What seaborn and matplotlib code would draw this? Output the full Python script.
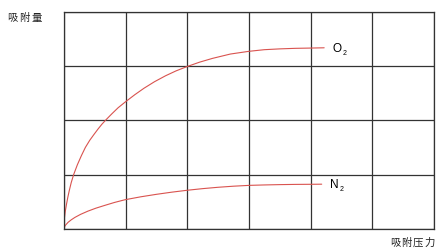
import matplotlib
matplotlib.use("Agg")
import matplotlib.pyplot as plt
import seaborn as sns
import pandas as pd

o2_x = [0, 0.01, 0.025, 0.045, 0.065, 0.09, 0.12, 0.16, 0.22, 0.286, 0.35, 0.42, 0.49, 0.556,
        0.62, 0.685, 0.78, 0.88, 1.0, 1.15, 1.3, 1.47, 1.65, 1.82, 2.0, 2.2, 2.41, 2.7, 3.0,
        3.25, 3.5, 3.75, 4.0, 4.22]
o2_y = [0, 0.2, 0.33, 0.46, 0.58, 0.71, 0.85, 1.0, 1.18, 1.35, 1.5, 1.63, 1.74, 1.84,
        1.93, 2.01, 2.12, 2.23, 2.34, 2.47, 2.59, 2.71, 2.82, 2.91, 2.99, 3.07, 3.14, 3.22, 3.27,
        3.30, 3.315, 3.325, 3.33, 3.335]
n2_x = [0, 0.01, 0.03, 0.07, 0.12, 0.18, 0.27, 0.39, 0.52, 0.66, 0.82, 0.99, 1.25, 1.5, 1.75,
        2.0, 2.25, 2.5, 2.75, 3.0, 3.25, 3.5, 3.75, 4.0, 4.18]
n2_y = [0, 0.035, 0.07, 0.12, 0.165, 0.21, 0.265, 0.325, 0.38, 0.43, 0.485, 0.535, 0.59, 0.635,
        0.675, 0.71, 0.74, 0.765, 0.785, 0.80, 0.808, 0.814, 0.818, 0.82, 0.822]
y_label = "吸附量"
x_label = "吸附压力"
series_names = ["O", "N"]

sns.set_theme(style="white")
plt.rcParams['font.family'] = ['Noto Sans CJK SC', 'DejaVu Sans']

fig = plt.figure(figsize=(4.42, 2.53), dpi=100)
ax = fig.add_axes([63.8 / 442, (253 - 229.8) / 253, (434 - 63.8) / 442, (229.8 - 12.7) / 253])

df = pd.concat([
    pd.DataFrame({"x": o2_x, "y": o2_y, "s": "O2"}),
    pd.DataFrame({"x": n2_x, "y": n2_y, "s": "N2"}),
])
sns.lineplot(data=df, x="x", y="y", units="s", estimator=None, color="#d9534f",
             linewidth=0.8, ax=ax, sort=False)

ax.set_xlim(0, 6)
ax.set_ylim(0, 4)
ax.set_xticks(range(7))
ax.set_yticks(range(5))
ax.grid(True, color="#333333", linewidth=0.9)
ax.tick_params(length=0, labelbottom=False, labelleft=False)
ax.set_xlabel("")
ax.set_ylabel("")
for sp in ax.spines.values():
    sp.set_color("#333333")
    sp.set_linewidth(0.9)

# series labels
for name, xs, ys in [(series_names[0], o2_x, o2_y), (series_names[1], n2_x, n2_y)]:
    ax.annotate(name, xy=(xs[-1], ys[-1]), xytext=(6, 0), textcoords="offset points",
                fontsize=8.5, family="Liberation Sans", va="center", ha="left", color="black")
    ax.annotate("2", xy=(xs[-1], ys[-1]), xytext=(13.2, -3.2), textcoords="offset points",
                fontsize=5, family="Liberation Sans", va="center", ha="left", color="black")

# letter-spaced axis captions (character centres)
def spaced(xc0, y0, s, step):
    for i, ch in enumerate(s):
        fig.text((xc0 + i * step) / 442, 1 - y0 / 253, ch, fontsize=7.5, va="center",
                 ha="center", color="#222222")

spaced(12.8, 17.5, y_label, 11.7)
spaced(395, 242.5, x_label, 11.4)

fig.savefig("out.png", dpi=100)
